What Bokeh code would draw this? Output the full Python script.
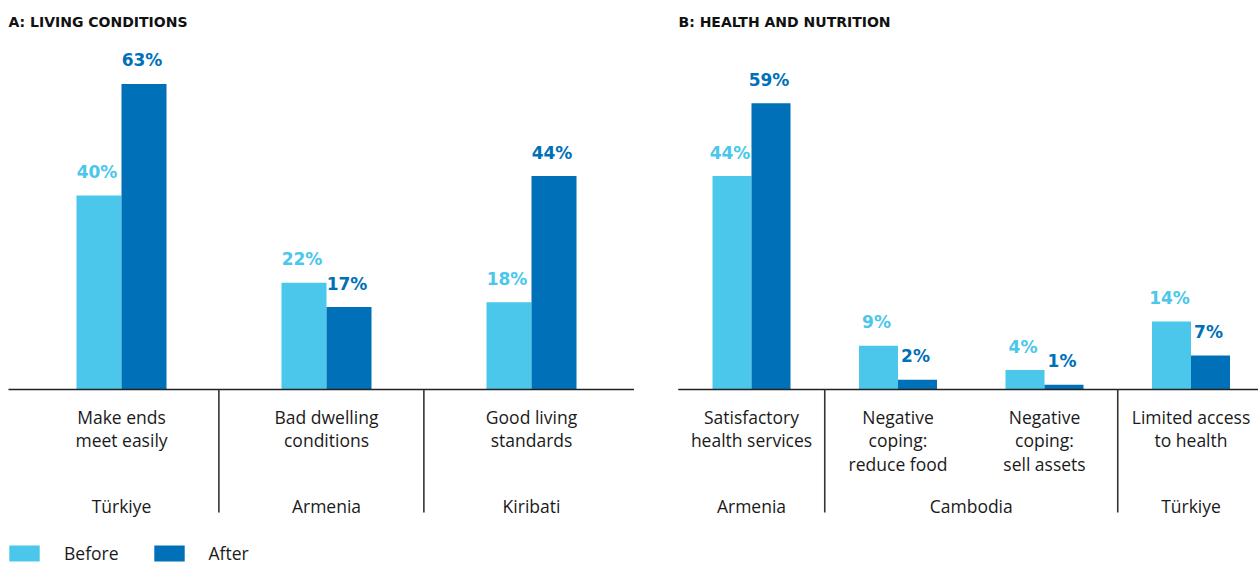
from bokeh.plotting import figure
from bokeh.models import Range1d, ColumnDataSource, Label, Legend, LegendItem
from bokeh.layouts import row
from bokeh.core.properties import value
from bokeh.embed import file_html
from bokeh.resources import INLINE

# ---------------- data ----------------
a_title = "A: LIVING CONDITIONS"
a_categories = ["Make ends\nmeet easily", "Bad dwelling\nconditions", "Good living\nstandards"]
a_countries = ["Türkiye", "Armenia", "Kiribati"]
a_country_slots = [(0, 0), (1, 1), (2, 2)]
a_before = [40, 22, 18]
a_after = [63, 17, 44]

b_title = "B: HEALTH AND NUTRITION"
b_categories = ["Satisfactory\nhealth services", "Negative\ncoping:\nreduce food",
                "Negative\ncoping:\nsell assets", "Limited access\nto health"]
b_countries = ["Armenia", "Cambodia", "Türkiye"]
b_country_slots = [(0, 0), (1, 2), (3, 3)]
b_before = [44, 9, 4, 14]
b_after = [59, 2, 1, 7]

series_names = ["Before", "After"]

# ---------------- style ----------------
C_BEFORE = "#4AC7EA"
C_AFTER = "#0070B8"
TEXT_C = "#1a1a1a"
LINE_C = "#222222"
CAT_FONT_NAME = "Open Sans"
CAT_FONT = value(CAT_FONT_NAME)
CAT_SIZE = "17.5px"
VAL_FONT = value("DejaVu Sans")
VAL_SIZE = "17px"
TITLE_FONT_NAME = "DejaVu Sans"
TITLE_SIZE = "14px"

H = 568
BASE_FROM_TOP = 389          # baseline pixel position from figure top
PX = 4.85                    # pixels per percentage point
Y0 = -(H - BASE_FROM_TOP) / PX
Y1 = BASE_FROM_TOP / PX

TXT_SHIFT = 7                # renderer places text this much lower than requested
LINE_OFFS = [34, 57.5, 81]   # category text baselines below axis line (px)
COUNTRY_OFF = 123            # country baseline below axis (px)
SEP_LEN = 123                # separator length (px)
VAL_GAP = 16.5               # gap between bar top and value baseline (px)


def make_panel(width, slot_px, first_px, bar_px, title, title_x, cats, countries, spans,
               before, after, line_x0, line_x1, sep_shift):
    x_start = -first_px / slot_px
    x_end = (width - first_px) / slot_px
    p = figure(width=width, height=H, x_range=Range1d(x_start, x_end), y_range=Range1d(Y0, Y1),
               x_axis_type=None, y_axis_type=None, toolbar_location=None,
               output_backend="svg", min_border=0, outline_line_color=None,
               background_fill_color="white", border_fill_color="white")
    p.grid.visible = False

    bw = bar_px / slot_px
    n = len(cats)
    xs = list(range(n))
    gap = (VAL_GAP + TXT_SHIFT) / PX
    src_b = ColumnDataSource(dict(x=[i - bw / 2 for i in xs], top=before,
                                  lab=[f"{v}%" for v in before],
                                  ly=[v + gap for v in before]))
    src_a = ColumnDataSource(dict(x=[i + bw / 2 for i in xs], top=after,
                                  lab=[f"{v}%" for v in after],
                                  ly=[v + gap for v in after]))
    rb = p.vbar(x="x", top="top", bottom=0, width=bw, source=src_b,
                fill_color=C_BEFORE, line_color=None)
    ra = p.vbar(x="x", top="top", bottom=0, width=bw, source=src_a,
                fill_color=C_AFTER, line_color=None)
    p.text(x="x", y="ly", text="lab", source=src_b, text_color=C_BEFORE,
           text_font=VAL_FONT, text_font_size=VAL_SIZE, text_font_style="bold",
           text_align="center", text_baseline="alphabetic", x_offset=-2)
    p.text(x="x", y="ly", text="lab", source=src_a, text_color=C_AFTER,
           text_font=VAL_FONT, text_font_size=VAL_SIZE, text_font_style="bold",
           text_align="center", text_baseline="alphabetic", x_offset=-2)

    # axis line
    p.segment(x0=[line_x0], y0=[0], x1=[line_x1], y1=[0], line_color=LINE_C, line_width=1.6)

    # category labels (one row per text line)
    lx, ly, lt = [], [], []
    for i, c in enumerate(cats):
        for k, t in enumerate(c.split("\n")):
            lx.append(i)
            ly.append(-(LINE_OFFS[k] - TXT_SHIFT) / PX)
            lt.append(t)
    p.text(x=lx, y=ly, text=lt, text_color=TEXT_C, text_font=CAT_FONT,
           text_font_size=CAT_SIZE, text_align="center", text_baseline="alphabetic")

    # country labels and separators
    cx = [(s0 + s1) / 2 for (s0, s1) in spans]
    p.text(x=cx, y=[-(COUNTRY_OFF - TXT_SHIFT) / PX] * len(cx), text=countries,
           text_color=TEXT_C, text_font=CAT_FONT, text_font_size=CAT_SIZE,
           text_align="center", text_baseline="alphabetic")
    seps = [s1 + 0.5 + sep_shift for (s0, s1) in spans[:-1]]
    p.segment(x0=seps, y0=[0] * len(seps), x1=seps, y1=[-SEP_LEN / PX] * len(seps),
              line_color="#333333", line_width=1.6)

    p.add_layout(Label(x=title_x, y=H - 21, x_units="screen", y_units="screen", text=title,
                       text_font=TITLE_FONT_NAME, text_font_size=TITLE_SIZE,
                       text_font_style="bold", text_color="#111111",
                       text_baseline="alphabetic"))
    return p, rb, ra


WA, WB = 658, 600
pA, rb, ra = make_panel(WA, 205, 121, 45, a_title, 8, a_categories, a_countries, a_country_slots,
                        a_before, a_after, (8 - 121) / 205, 2.5, -0.025)
pB, _, _ = make_panel(WB, 146.5, 93, 39, b_title, 20, b_categories, b_countries, b_country_slots,
                      b_before, b_after, -0.5, (WB - 93) / 146.5, 0.0)

legend = Legend(items=[LegendItem(label=series_names[0], renderers=[rb]),
                       LegendItem(label=series_names[1], renderers=[ra])],
                location=(5, 3), orientation="horizontal", glyph_width=38, glyph_height=20,
                label_standoff=21, spacing=31, padding=0, margin=0, label_width=54,
                border_line_color=None, background_fill_alpha=0,
                label_text_font=CAT_FONT_NAME, label_text_font_size=CAT_SIZE,
                label_text_color=TEXT_C)
pA.add_layout(legend)

layout = row(pA, pB)
open("out.html", "w").write(file_html(layout, INLINE))
